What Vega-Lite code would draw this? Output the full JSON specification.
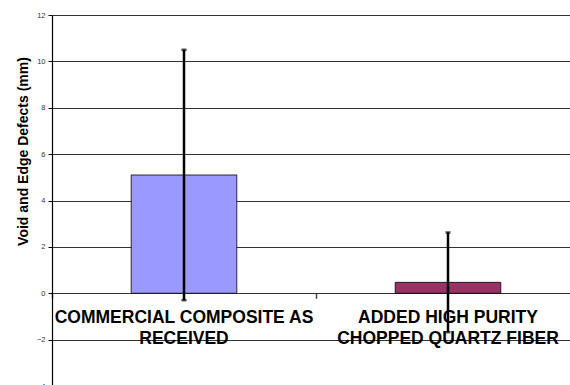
{
  "$schema": "https://vega.github.io/schema/vega-lite/v6.json",
  "autosize": "none",
  "width": 528,
  "height": 371,
  "padding": {"left": 52, "top": 15, "right": 0, "bottom": 0},
  "config": {
    "view": {"stroke": null},
    "font": "Liberation Sans"
  },
  "data": {
    "values": [
      {"cat": "COMMERCIAL COMPOSITE AS\nRECEIVED", "mean": 5.1, "lo": -0.3, "hi": 10.5, "color": "c1"},
      {"cat": "ADDED HIGH PURITY\nCHOPPED QUARTZ FIBER", "mean": 0.47, "lo": -1.68, "hi": 2.62, "color": "c2"}
    ]
  },
  "encoding": {
    "x": {
      "field": "cat", "type": "nominal", "sort": null,
      "scale": {"paddingInner": 0, "paddingOuter": 0},
      "axis": {
        "orient": "bottom", "offset": -92.75, "labels": false, "title": null,
        "domain": false, "tickBand": "extent", "tickSize": 5, "tickColor": "#444", "tickWidth": 1.5
      }
    }
  },
  "layer": [
    {
      "mark": {"type": "bar", "stroke": "#000", "strokeWidth": 0.8, "width": {"band": 0.4}},
      "encoding": {
        "y": {
          "field": "mean", "type": "quantitative",
          "scale": {"domain": [-4, 12], "nice": false, "zero": false},
          "axis": {
            "values": [-4, -2, 0, 2, 4, 6, 8, 10, 12],
            "title": "Void and Edge Defects (mm)",
            "titleFont": "Liberation Sans", "titleFontSize": 14, "titleFontWeight": "bold",
            "titleColor": "#000", "titlePadding": 6, "titleY": 136,
            "labelFontSize": 7.5, "labelColor": "#333", "labelPadding": 3,
            "tickSize": 4, "tickColor": "#000", "domainColor": "#000", "domainWidth": 1.2,
            "grid": true, "gridColor": "#333", "gridWidth": 1, "gridOpacity": 1
          }
        },
        "color": {
          "field": "color", "type": "nominal",
          "scale": {"domain": ["c1", "c2"], "range": ["#9999FF", "#993366"]},
          "legend": null
        }
      }
    },
    {
      "mark": {"type": "rule", "color": "#000", "strokeWidth": 2.5},
      "encoding": {
        "y": {"field": "lo", "type": "quantitative"},
        "y2": {"field": "hi"}
      }
    },
    {
      "mark": {"type": "tick", "color": "#000", "size": 5, "thickness": 2.5, "orient": "horizontal"},
      "encoding": {"y": {"field": "lo", "type": "quantitative"}}
    },
    {
      "mark": {"type": "tick", "color": "#000", "size": 5, "thickness": 2.5, "orient": "horizontal"},
      "encoding": {"y": {"field": "hi", "type": "quantitative"}}
    },
    {
      "mark": {"type": "text", "font": "Liberation Sans", "fontWeight": "bold", "fontSize": 17.5, "lineBreak": "\n", "lineHeight": 21.5, "baseline": "top", "align": "center", "color": "#000", "dy": 15.5},
      "encoding": {
        "y": {"datum": 0},
        "text": {"field": "cat"}
      }
    }
  ]
}
